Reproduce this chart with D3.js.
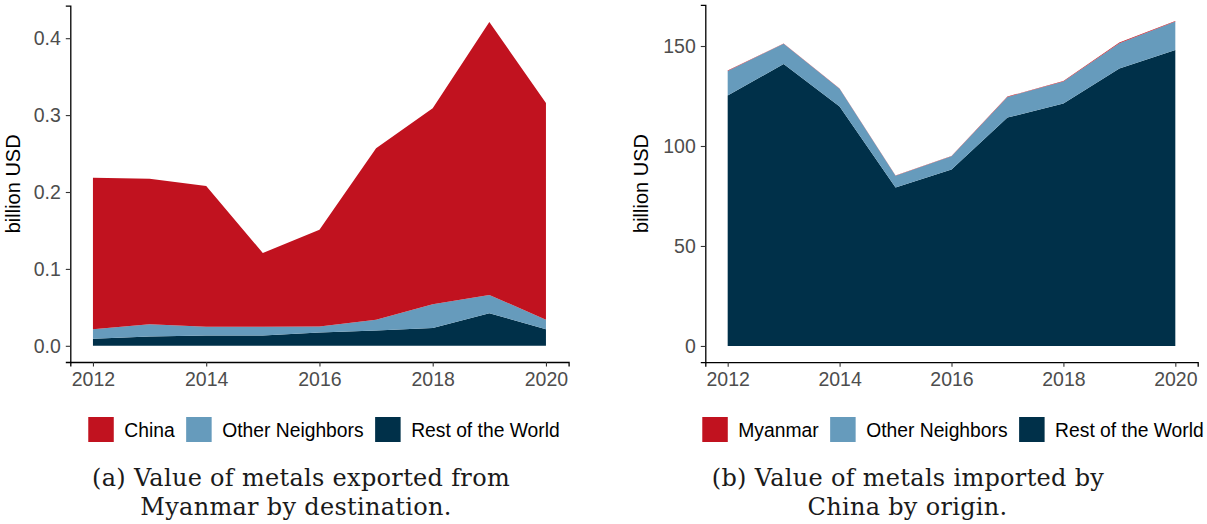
<!DOCTYPE html>
<html lang="en">
<head>
<meta charset="UTF-8">
<title>Metals trade Myanmar / China</title>
<script src="https://d3js.org/d3.v7.min.js"></script>
<style>
body { margin: 0; background: #fff; }
svg { display: block; }
.tick text { font-family: 'Liberation Sans', Arial, sans-serif; font-size: 19.5px; fill: #4d4d4d; }
.ylab, .legend text { font-family: 'Liberation Sans', Arial, sans-serif; font-size: 19.3px; fill: #000; }
.ylab { font-size: 20px; }
.caption { font-family: 'DejaVu Serif', serif; font-size: 24px; letter-spacing: 0.3px; fill: #1a1a1a; }
</style>
</head>
<body>
<svg id="chart" width="1207" height="524"></svg>
<script>
// ---- data (billion USD) ----
const years = [2012, 2013, 2014, 2015, 2016, 2017, 2018, 2019, 2020];

// (a) exports from Myanmar by destination
const exportChina     = [0.197, 0.189, 0.183, 0.096, 0.126, 0.223, 0.255, 0.355, 0.282];
const exportNeighbors = [0.0125, 0.0161, 0.0113, 0.0113, 0.0077, 0.0138, 0.031, 0.0238, 0.0122];
const exportRest      = [0.0091, 0.012, 0.0134, 0.0134, 0.0173, 0.020, 0.023, 0.0424, 0.0216];

// (b) imports by China by origin
const importMyanmar   = [0.197, 0.189, 0.183, 0.096, 0.126, 0.223, 0.255, 0.355, 0.282];
const importNeighbors = [12.3, 10.1, 8.9, 5.8, 6.6, 10.3, 11.0, 12.6, 14.2];
const importRest      = [125.2, 141.0, 119.7, 79.3, 88.3, 114.2, 121.3, 138.8, 148.0];

const xTicks = [2012, 2014, 2016, 2018, 2020];
const yTicksA = [0, 0.1, 0.2, 0.3, 0.4];
const yTicksB = [0, 50, 100, 150];

const colors = { top: '#c1121f', mid: '#669bbc', bottom: '#003049' };

const svg = d3.select('#chart');

function panel(opts) {
    const rows = years.map((yr, i) => ({
        year: yr,
        bottom: opts.bottom[i],
        mid: opts.mid[i],
        top: opts.top[i]
    }));
    const stacked = d3.stack().keys(['bottom', 'mid', 'top'])(rows);
    const maxV = d3.max(stacked[2], d => d[1]);

    // ggplot-like 5% expansion
    const xPad = (2020 - 2012) * 0.05;
    const yPad = maxV * 0.05;
    const x = d3.scaleLinear().domain([2012 - xPad, 2020 + xPad]).range([opts.left, opts.right]);
    const y = d3.scaleLinear().domain([-yPad, maxV + yPad]).range([opts.bottomPx, opts.topPx]);

    const g = svg.append('g');

    const area = d3.area()
        .x(d => x(d.data.year))
        .y0(d => y(d[0]))
        .y1(d => y(d[1]));

    g.selectAll('path.layer')
        .data(stacked)
        .join('path')
        .attr('class', 'layer')
        .attr('fill', d => colors[d.key])
        .attr('d', area);

    // axes
    const xAxis = g.append('g')
        .attr('transform', `translate(0,${opts.bottomPx})`)
        .call(d3.axisBottom(x).tickValues(xTicks).tickFormat(d3.format('d')).tickSize(4.5).tickPadding(5));
    const yAxis = g.append('g')
        .attr('transform', `translate(${opts.left},0)`)
        .call(d3.axisLeft(y).tickValues(opts.yTicks).tickFormat(opts.fmt).tickSize(4.5).tickPadding(5));
    [xAxis, yAxis].forEach(a => {
        a.select('.domain').attr('stroke', '#000').attr('stroke-width', 1.3);
        a.selectAll('.tick line').attr('stroke', '#333').attr('stroke-width', 1.1);
    });
    xAxis.selectAll('.tick text').attr('dy', '0.74em');

    g.append('text')
        .attr('class', 'ylab')
        .attr('transform', `translate(${opts.ylabX},${(opts.topPx + opts.bottomPx) / 2}) rotate(-90)`)
        .attr('text-anchor', 'middle')
        .attr('dy', '0.35em')
        .text('billion USD');

    // legend: swatch, label, then next item; centred on opts.legendCx
    const lg = g.append('g').attr('class', 'legend');
    let cursor = 0;
    opts.legend.forEach(item => {
        const it = lg.append('g').attr('transform', `translate(${cursor},417)`);
        it.append('rect').attr('width', 25.5).attr('height', 25).attr('fill', colors[item.key]);
        const t = it.append('text').attr('x', 36).attr('y', 19.5).text(item.label);
        cursor += 36 + t.node().getComputedTextLength() + 11.5;
    });
    const legendW = cursor - 11.5;
    lg.attr('transform', `translate(${opts.legendCx - legendW / 2},0)`);

    // caption
    opts.caption.forEach((line, i) => {
        g.append('text')
            .attr('class', 'caption')
            .attr('x', line.cx)
            .attr('y', 485.5 + i * 29)
            .attr('text-anchor', 'middle')
            .text(line.text);
    });
}

panel({
    left: 70.3, right: 568.6, topPx: 5.7, bottomPx: 362,
    bottom: exportRest, mid: exportNeighbors, top: exportChina,
    yTicks: yTicksA, fmt: d3.format('.1f'), ylabX: 13,
    legendCx: 324,
    legend: [
        { key: 'top', label: 'China' },
        { key: 'mid', label: 'Other Neighbors' },
        { key: 'bottom', label: 'Rest of the World' }
    ],
    caption: [
        { text: '(a) Value of metals exported from', cx: 301 },
        { text: 'Myanmar by destination.', cx: 296 }
    ]
});

panel({
    left: 705.3, right: 1197.7, topPx: 4.8, bottomPx: 362.2,
    bottom: importRest, mid: importNeighbors, top: importMyanmar,
    yTicks: yTicksB, fmt: d3.format('d'), ylabX: 641,
    legendCx: 953,
    legend: [
        { key: 'top', label: 'Myanmar' },
        { key: 'mid', label: 'Other Neighbors' },
        { key: 'bottom', label: 'Rest of the World' }
    ],
    caption: [
        { text: '(b) Value of metals imported by', cx: 908 },
        { text: 'China by origin.', cx: 907.5 }
    ]
});
</script>
</body>
</html>
